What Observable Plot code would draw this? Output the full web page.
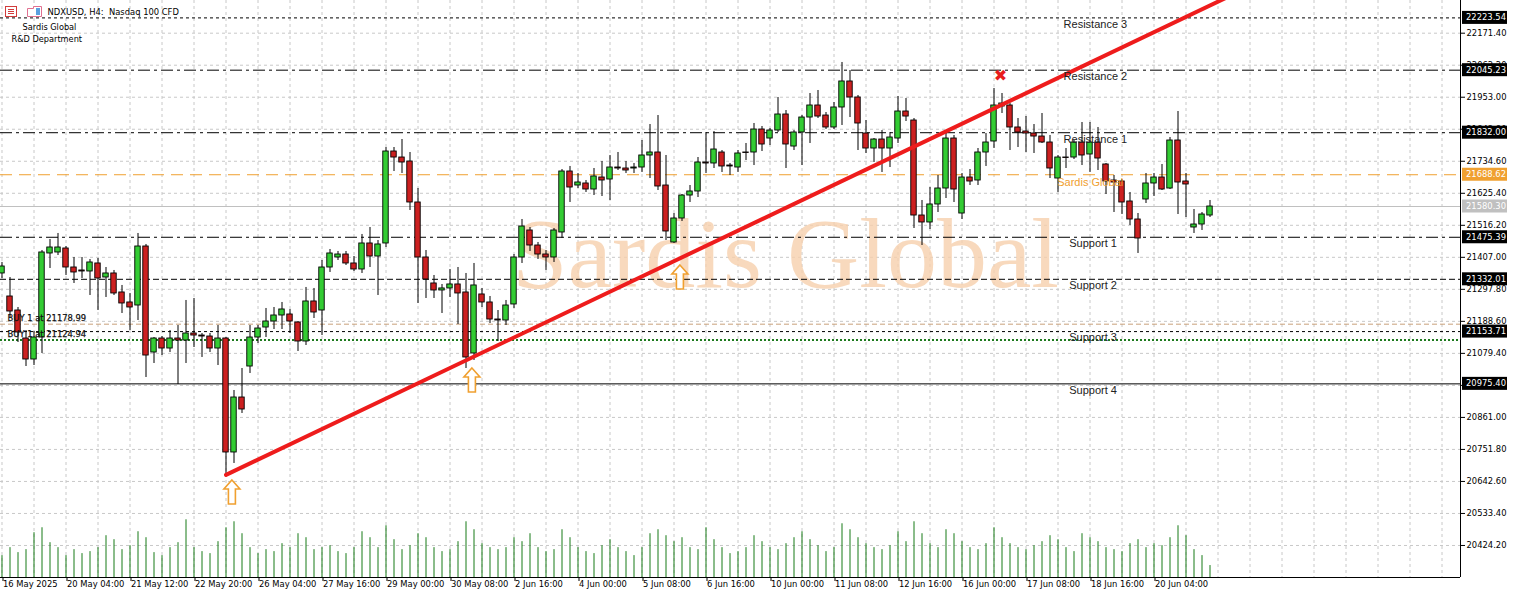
<!DOCTYPE html>
<html>
<head>
<meta charset="utf-8">
<script src="https://cdn.jsdelivr.net/npm/d3@7"></script>
<script src="https://cdn.jsdelivr.net/npm/@observablehq/plot@0.6"></script>
<style>
  html, body { margin: 0; padding: 0; background: #fff; }
  #chart { width: 1516px; height: 589px; overflow: hidden; }
</style>
</head>
<body>
<div id="chart"></div>
<script>
// NDXUSD H4 candles, bar 0 = 16 May 2025 20:00
const open = [21351.9,21273.4,21225.6,21130.1,21058.5,21133.5,21420.1,21423.5,21437.1,21372.3,21362.1,21358.7,21386.0,21338.2,21351.9,21287.1,21253.0,21242.7,21443.9,21082.4,21130.1,21096.0,21130.1,21123.3,21147.2,21140.3,21136.9,21096.0,21130.1,20741.4,20928.9,21034.6,21133.5,21167.6,21188.1,21208.6,21212.0,21184.7,21119.9,21256.4,21225.6,21372.3,21406.4,21416.6,21386.0,21365.5,21454.2,21409.8,21454.2,21767.9,21747.4,21733.8,21594.0,21406.4,21317.8,21293.9,21300.8,21314.4,21287.1,21079.0,21280.3,21253.0,21194.9,21191.5,21246.2,21406.4,21498.5,21447.3,21416.6,21406.4,21491.7,21699.7,21651.9,21658.8,21638.3,21679.2,21672.4,21713.3,21709.9,21709.9,21713.3,21754.3,21764.5,21651.9,21457.6,21539.4,21617.8,21631.5,21730.4,21727.0,21764.5,21720.1,21713.3,21764.5,21764.5,21842.9,21812.2,21839.5,21894.1,21784.9,21832.7,21883.8,21924.8,21890.6,21849.8,21918.0,22006.7,21952.1,21829.3,21778.1,21808.8,21778.1,21812.2,21904.3,21873.6,21549.6,21525.8,21587.2,21641.7,21812.2,21556.4,21679.2,21669.0,21764.5,21802.0,21921.4,21924.8,21849.8,21836.1,21829.3,21819.0,21798.6,21675.8,21747.4,21747.4,21798.6,21757.7,21798.6,21723.6,21669.0,21665.6,21597.4,21536.0,21604.2,21658.8,21679.2,21641.7,21805.4,21665.6,21508.7,21518.9,21549.6];
const high = [21389.4,21338.2,21235.9,21157.4,21154.0,21430.3,21467.8,21488.3,21443.9,21406.4,21406.4,21399.6,21403.0,21372.3,21362.1,21311.0,21283.7,21488.3,21450.8,21133.5,21136.9,21157.4,21174.5,21259.8,21266.6,21147.2,21147.2,21174.5,21133.5,20952.8,21027.8,21174.5,21174.5,21232.5,21235.9,21253.0,21229.1,21188.1,21304.2,21300.8,21396.2,21433.7,21426.9,21426.9,21409.8,21484.9,21508.7,21464.4,21781.5,21781.5,21808.8,21764.5,21641.7,21430.3,21345.0,21314.4,21365.5,21372.3,21351.9,21386.0,21300.8,21273.4,21225.6,21259.8,21416.6,21536.0,21508.7,21457.6,21430.3,21505.3,21706.5,21716.8,21692.9,21669.0,21709.9,21733.8,21754.3,21764.5,21733.8,21727.0,21805.4,21859.9,21890.6,21754.3,21556.4,21621.3,21651.9,21747.4,21832.7,21836.1,21771.3,21727.0,21771.3,21795.2,21863.4,21853.2,21846.3,21952.1,21907.7,21839.5,21890.6,21965.7,21976.0,21900.9,21935.0,22071.5,22044.2,21958.9,21873.6,21812.2,21839.5,21832.7,21955.5,21948.7,21880.4,21600.8,21645.1,21686.1,21832.7,21822.5,21692.9,21706.5,21778.1,21829.3,21982.8,21965.7,21931.6,21880.4,21887.2,21859.9,21897.5,21822.5,21754.3,21778.1,21805.4,21866.8,21866.8,21849.8,21727.0,21686.1,21672.4,21628.1,21556.4,21692.9,21692.9,21723.6,21815.6,21904.3,21692.9,21570.1,21559.9,21600.8];
const low = [21334.8,21198.3,21116.5,21034.6,21038.0,21079.0,21368.9,21413.2,21345.0,21317.8,21334.8,21276.8,21225.6,21270.0,21276.8,21215.4,21157.4,21191.5,20997.1,21044.9,21072.1,21082.4,20973.3,21044.9,21099.4,21065.4,21082.4,21038.0,20659.6,20703.9,20874.4,21010.8,21113.1,21133.5,21160.8,21160.8,21147.2,21085.8,21106.3,21198.3,21140.3,21355.3,21396.2,21379.1,21358.7,21351.9,21372.3,21276.8,21440.5,21699.7,21692.9,21566.7,21249.6,21266.6,21266.6,21215.4,21270.0,21177.9,21027.8,21055.1,21235.9,21181.3,21119.9,21174.5,21232.5,21386.0,21426.9,21399.6,21362.1,21389.4,21471.2,21594.0,21641.7,21628.1,21617.8,21614.4,21600.8,21703.1,21692.9,21692.9,21696.3,21675.8,21634.9,21464.4,21454.2,21529.2,21594.0,21611.0,21692.9,21709.9,21696.3,21686.1,21696.3,21737.2,21720.1,21767.9,21788.4,21832.7,21709.9,21771.3,21720.1,21795.2,21880.4,21842.9,21842.9,21856.6,21883.8,21771.3,21761.1,21730.4,21696.3,21713.3,21795.2,21870.2,21505.3,21447.3,21501.9,21559.9,21607.6,21594.0,21536.0,21651.9,21651.9,21716.8,21778.1,21897.5,21771.3,21781.5,21764.5,21761.1,21795.2,21675.8,21628.1,21709.9,21740.6,21720.1,21696.3,21703.1,21621.3,21559.9,21553.0,21515.5,21420.1,21590.6,21614.4,21634.9,21638.3,21553.0,21542.8,21488.3,21498.5,21542.8];
const close = [21375.7,21222.2,21150.6,21058.5,21133.5,21423.5,21440.5,21440.5,21372.3,21355.3,21358.7,21389.4,21334.8,21351.9,21283.7,21249.6,21235.9,21443.9,21072.1,21130.1,21096.0,21130.1,21123.3,21147.2,21140.3,21136.9,21096.0,21130.1,20741.4,20928.9,20888.0,21133.5,21164.2,21188.1,21208.6,21229.1,21188.1,21119.9,21256.4,21218.8,21372.3,21420.1,21416.6,21386.0,21365.5,21454.2,21409.8,21450.8,21767.9,21747.4,21730.4,21594.0,21406.4,21331.4,21293.9,21300.8,21314.4,21283.7,21065.4,21311.0,21253.0,21194.9,21191.5,21242.7,21406.4,21512.1,21447.3,21416.6,21406.4,21498.5,21699.7,21645.1,21662.2,21638.3,21682.7,21669.0,21713.3,21709.9,21703.1,21713.3,21754.3,21764.5,21648.6,21495.1,21539.4,21617.8,21631.5,21730.4,21727.0,21774.7,21716.8,21716.8,21761.1,21762.8,21842.9,21791.8,21839.5,21894.1,21791.8,21832.7,21883.8,21924.8,21887.2,21849.8,21918.0,22006.7,21952.1,21863.4,21778.1,21808.8,21778.1,21815.6,21904.3,21887.2,21549.6,21525.8,21587.2,21641.7,21812.2,21638.3,21679.2,21665.6,21764.5,21798.6,21924.8,21931.6,21849.8,21832.7,21829.3,21819.0,21798.6,21709.9,21747.4,21745.7,21798.6,21754.3,21798.6,21744.0,21665.6,21662.2,21594.0,21536.0,21471.2,21658.8,21679.2,21638.3,21805.4,21662.2,21655.4,21518.9,21553.0,21580.3];
// tick volume per bar
const volume = [22,30,25,28,45,50,35,30,22,28,24,26,30,42,38,28,32,46,40,25,22,30,35,58,30,26,24,36,50,56,44,30,24,28,26,34,30,44,40,28,30,32,26,24,30,46,40,30,52,38,28,32,44,40,30,26,28,36,56,48,34,30,28,30,40,36,44,30,26,28,48,40,30,26,24,32,38,30,26,22,30,44,48,42,36,40,30,28,50,38,30,24,26,30,42,36,30,28,34,40,46,38,32,26,30,54,48,40,34,30,28,32,46,36,56,44,34,30,48,44,36,30,28,34,50,40,34,30,28,32,36,42,38,30,26,44,40,36,30,28,26,34,38,30,34,32,40,52,42,28,22,12];

// time axis: a label every 8 bars
const timeLabels = ["16 May 2025","20 May 04:00","21 May 12:00","22 May 20:00","26 May 04:00","27 May 16:00","29 May 00:00","30 May 08:00","2 Jun 16:00","4 Jun 00:00","5 Jun 08:00","6 Jun 16:00","10 Jun 00:00","11 Jun 08:00","12 Jun 16:00","16 Jun 00:00","17 Jun 08:00","18 Jun 16:00","20 Jun 04:00"];
// price axis ticks
const priceTicks = [20424.20,20533.40,20642.60,20751.80,20861.00,20970.20,21079.40,21188.60,21297.80,21407.00,21516.20,21625.40,21734.60,21843.80,21953.00,22062.20,22171.40];

// support / resistance levels
const levelNames  = ["Resistance 3","Resistance 2","Resistance 1","Sardis Global","Support 1","Support 2","Support 3","Support 4"];
const levelPrices = [22223.54,22045.23,21832.00,21688.62,21475.39,21332.01,21153.71,20975.40];
const lastPrice = 21580.30;
// open orders
const orderNames  = ["BUY 1 at 21178.99","BUY 1 at 21124.94"];
const orderPrices = [21178.99,21124.94];

// trend line through the 23 May low
const trendBars   = [28, 154];
const trendPrices = [20665, 22305];
// touch markers and the rejection mark
const arrowBars   = [28.8, 58.8, 84.8];
const arrowPrices = [20605, 20987, 21338];
const crossBar = 124.8, crossPrice = 22027;

// ---------- layout / style ----------
const W = 1516, H = 589;
const mRight = 56, mBottom = 12;
const xDomain = [-0.1875, 182.3125];   // 8 px per bar, bar centres on half pixels
const yDomain = [20315.0, 22282.9];
const GREEN = "#33cc33", RED = "#cc2020";
const ORANGE = "#f0a030";
const axisFont = "'DejaVu Sans', sans-serif";
const labelFont = "'Liberation Sans', Arial, sans-serif";

const levelStyle = [
  {dash: "3,3",        color: "#000", lx: 132.7},
  {dash: "12,4,3,4",   color: "#000", lx: 132.7},
  {dash: "12,4,3,4",   color: "#000", lx: 132.7},
  {dash: "12,7",       color: ORANGE, lx: 131.9, accent: true},
  {dash: "12,4,3,4",   color: "#000", lx: 133.4},
  {dash: "6,3",        color: "#000", lx: 133.4},
  {dash: "3,3",        color: "#000", lx: 133.4},
  {dash: null,         color: "#000", lx: 133.4}
];

const bars = open.map((o, i) => ({
  i, open: o, high: high[i], low: low[i], close: close[i], vol: volume[i]
}));
const bull = bars.filter(d => d.close >= d.open);
const bear = bars.filter(d => d.close < d.open);
const volMax = d3.max(volume);
const volBand = (yDomain[1] - yDomain[0]) * 0.1;
const labelBars = timeLabels.map((_, k) => k * 8);
const gridBars = d3.range(0, 184, 4);

const levels = levelNames.map((name, k) => ({name, price: levelPrices[k], ...levelStyle[k]}));
const orders = orderNames.map((name, k) => ({name, price: orderPrices[k]}));
const trend = trendBars.map((b, k) => ({bar: b, price: trendPrices[k]}));

const marks = [
  // grid
  Plot.ruleY(priceTicks, {stroke: "#c8c8c8", strokeDasharray: "3,3"}),
  Plot.ruleX(gridBars, {stroke: "#c8c8c8", strokeDasharray: "3,3"}),
  // watermark
  Plot.text(["Sardis Global"], {frameAnchor: "middle", dx: 55, dy: -34, fontSize: 100,
    fontFamily: "'Liberation Serif', serif", fill: "#f6d0ac", fillOpacity: 0.8}),
  // levels
  ...levels.map(l => Plot.ruleY([l.price], {stroke: l.color, strokeWidth: 1, strokeDasharray: l.dash ?? undefined})),
  Plot.ruleY([lastPrice], {stroke: "#c0c0c0"}),
  Plot.ruleY([orderPrices[0]], {stroke: "#c8a07a", strokeDasharray: "5,3"}),
  Plot.ruleY([orderPrices[1]], {stroke: "#1e7a1e", strokeWidth: 2, strokeDasharray: "2,2"}),
  // volume
  Plot.ruleX(bars, {x: "i", y1: yDomain[0], y2: d => yDomain[0] + d.vol / volMax * volBand, stroke: "#167a16"}),
  // candles
  Plot.ruleX(bars, {x: "i", y1: "low", y2: "high", stroke: "#000"}),
  Plot.rect(bull, {x1: d => d.i - 0.34, x2: d => d.i + 0.34, y1: "open", y2: "close", fill: GREEN, stroke: "#000", strokeWidth: 0.9}),
  Plot.rect(bear, {x1: d => d.i - 0.34, x2: d => d.i + 0.34, y1: "open", y2: "close", fill: RED, stroke: "#000", strokeWidth: 0.9}),
  // trend line
  Plot.line(trend, {x: "bar", y: "price", stroke: "#ee1c1c", strokeWidth: 4, clip: true}),
  // rejection mark
  Plot.text([{bar: crossBar, price: crossPrice}], {x: "bar", y: "price", text: () => "\u2716", fontSize: 16,
    fill: "#e81c1c", fontFamily: "'DejaVu Sans', sans-serif"}),
  // level labels
  Plot.text(levels.filter(l => !l.accent), {x: "lx", y: "price", text: "name", textAnchor: "start", lineAnchor: "top", dy: 2,
    fontSize: 11, fontFamily: labelFont, fill: "#222"}),
  Plot.text(levels.filter(l => l.accent), {x: "lx", y: "price", text: "name", textAnchor: "start", lineAnchor: "top", dy: 3,
    fontSize: 11, fontFamily: labelFont, fill: ORANGE}),
  // order labels
  Plot.text(orders, {y: "price", text: "name", frameAnchor: "left", dx: 7, dy: -6, textAnchor: "start",
    fontSize: 8.4, fontFamily: axisFont, fill: "#111", stroke: "#111", strokeWidth: 0.25}),
  // header
  Plot.text(["NDXUSD, H4:  Nasdaq 100 CFD"], {frameAnchor: "top-left", dx: 47, dy: 12, textAnchor: "start",
    lineAnchor: "middle", fontSize: 8.4, fontFamily: axisFont, fill: "#000"}),
  Plot.text(["Sardis Global"], {frameAnchor: "top-left", dx: 22, dy: 27, textAnchor: "start",
    lineAnchor: "middle", fontSize: 8.2, fontFamily: axisFont, fill: "#000"}),
  Plot.text(["R&D Department"], {frameAnchor: "top-left", dx: 11, dy: 39, textAnchor: "start",
    lineAnchor: "middle", fontSize: 8.2, fontFamily: axisFont, fill: "#000"}),
  // axes and frame
  Plot.axisX(labelBars, {anchor: "bottom", tickSize: 4, tickPadding: 0, textAnchor: "start", dx: 1,
    tickFormat: b => timeLabels[b / 8], fontSize: 8.4, label: null}),
  Plot.axisY(priceTicks, {anchor: "right", tickSize: 4, tickPadding: 2, tickFormat: d => d.toFixed(2),
    fontSize: 8.4, label: null}),
  Plot.ruleX([xDomain[1]], {stroke: "#000"}),
  Plot.ruleY([yDomain[0]], {stroke: "#000"})
];

const chart = Plot.plot({
  width: W, height: H,
  marginLeft: 0, marginRight: mRight, marginTop: 0, marginBottom: mBottom,
  style: {fontFamily: axisFont, fontSize: "8.4px", background: "#fff", color: "#000"},
  x: {type: "linear", domain: xDomain},
  y: {type: "linear", domain: yDomain},
  marks
});

const xs = chart.scale("x");
const ys = chart.scale("y");
const svg = d3.select(chart);

// hollow up-arrows under the trend-line touches
const arrowShape = [[0,-12],[8,-3],[3.5,-3],[3.5,12],[-3.5,12],[-3.5,-3],[-8,-3]];
const ag = svg.append("g").attr("fill", "#fff").attr("stroke", ORANGE).attr("stroke-width", 1.6).attr("stroke-linejoin", "miter");
arrowBars.forEach((b, k) => {
  const cx = xs.apply(b), cy = ys.apply(arrowPrices[k]);
  ag.append("path").attr("d", "M" + arrowShape.map(([dx, dy]) => [cx + dx, cy + dy].join(",")).join("L") + "Z");
});

// price tags on the right axis for levels and last price
const tags = levelPrices.map((p, k) => ({p, bg: k === 3 ? ORANGE : "#000"}));
tags.push({p: lastPrice, bg: "#c0c0c0"});
const tg = svg.append("g").attr("font-family", axisFont).attr("font-size", 8.4).attr("text-anchor", "start");
for (const t of tags) {
  const y = ys.apply(t.p);
  tg.append("rect").attr("x", W - mRight + 2).attr("y", y - 6.5).attr("width", 45).attr("height", 13).attr("fill", t.bg);
  tg.append("text").attr("x", W - mRight + 6).attr("y", y + 3).attr("fill", "#fff").text(t.p.toFixed(2));
}

// small toolbar icons in front of the symbol caption
const ig = svg.append("g");
ig.append("rect").attr("x", 5.5).attr("y", 6.5).attr("width", 11).attr("height", 10).attr("fill", "#fff").attr("stroke", "#d23c3c");
for (const yy of [9.5, 11.5, 13.5]) ig.append("line").attr("x1", 8).attr("x2", 14).attr("y1", yy).attr("y2", yy).attr("stroke", "#d23c3c");
ig.append("path").attr("d", "M27.5,16.5V8.5H33.5V6.5H41.5V16.5Z").attr("fill", "#fff").attr("stroke", "#e07090");
ig.append("rect").attr("x", 36).attr("y", 8).attr("width", 4).attr("height", 7).attr("fill", "#5aa0e0");

document.getElementById("chart").append(chart);
</script>
</body>
</html>
